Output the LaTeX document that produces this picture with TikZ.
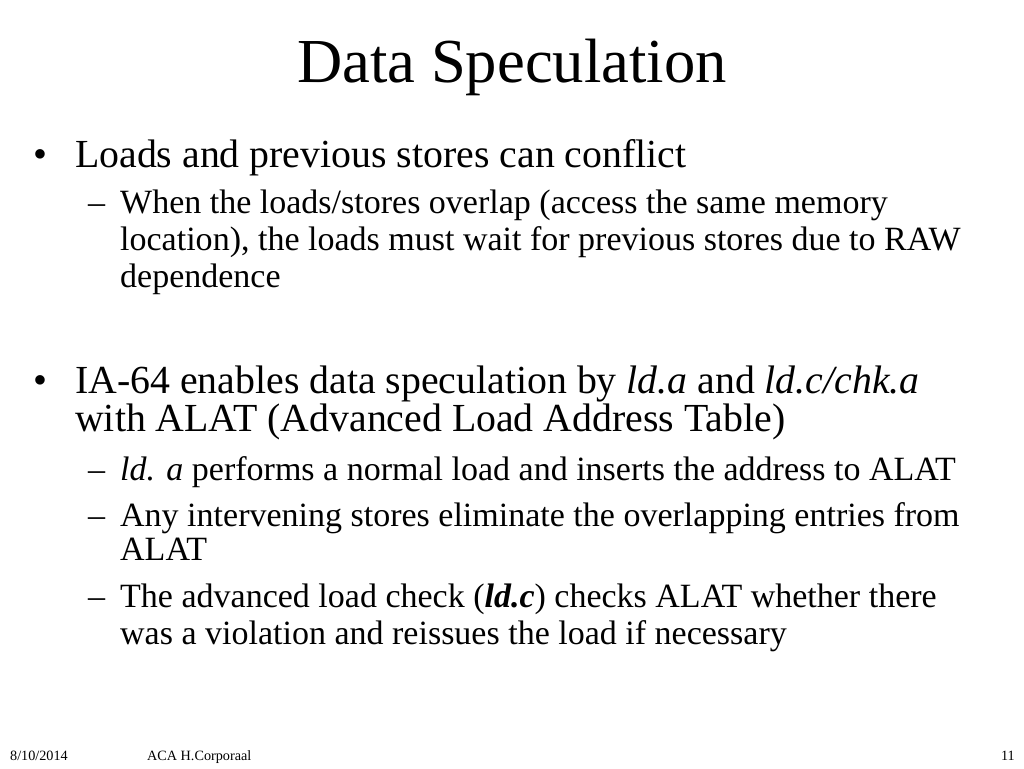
\documentclass[tikz,border=0pt]{standalone}
\usepackage{fontspec}
\setmainfont{Liberation Serif}
\begin{document}
\begin{tikzpicture}[x=1pt,y=-1pt,
  titletext/.style={anchor=base,inner sep=0pt,font=\fontsize{62.6}{70}\selectfont},
  lone/.style={anchor=base west,inner sep=0pt,font=\fontsize{39.8}{44}\selectfont},
  ltwo/.style={anchor=base west,inner sep=0pt,font=\fontsize{34}{38}\selectfont},
  foot/.style={anchor=base west,inner sep=0pt,font=\fontsize{14.2}{16}\selectfont}]
\useasboundingbox (0,0) rectangle (1024,768);
\fill[white] (0,0) rectangle (1024,768);
\node[titletext] (title) at (512,82) {Data Speculation};
% bullet 1
\node[lone] (b1) at (33,167) {\textbullet};
\node[lone] (t1) at (75,167) {Loads and previous stores can conflict};
\node[ltwo] (d1) at (88,213) {–};
\node[ltwo] (t1a) at (120,213) {When the loads/stores overlap (access the same memory};
\node[ltwo] (t1b) at (120,250) {location), the loads must wait for previous stores due to RAW};
\node[ltwo] (t1c) at (120,287) {dependence};
% bullet 2
\node[lone] (b2) at (33,393) {\textbullet};
\node[lone] (t2a) at (75,393) {IA-64 enables data speculation by \textit{ld.a} and \textit{ld.c/chk.a}};
\node[lone] (t2b) at (75,431) {with ALAT (Advanced Load Address Table)};
\node[ltwo] (d2) at (88,480) {–};
\node[ltwo] (t2c) at (120,480) {\textit{ld. a} performs a normal load and inserts the address to ALAT};
\node[ltwo] (d3) at (88,526) {–};
\node[ltwo] (t2d) at (120,526) {Any intervening stores eliminate the overlapping entries from};
\node[ltwo] (t2e) at (120,560) {ALAT};
\node[ltwo] (d4) at (88,607) {–};
\node[ltwo] (t2f) at (120,607) {The advanced load check (\textbf{\textit{ld.c}}) checks ALAT whether there};
\node[ltwo] (t2g) at (120,644) {was a violation and reissues the load if necessary};
% footer
\node[foot] (f1) at (10,760) {8/10/2014};
\node[foot] (f2) at (147,760) {ACA H.Corporaal};
\node[foot,anchor=base east] (f3) at (1015,760) {11};
\end{tikzpicture}
\end{document}
